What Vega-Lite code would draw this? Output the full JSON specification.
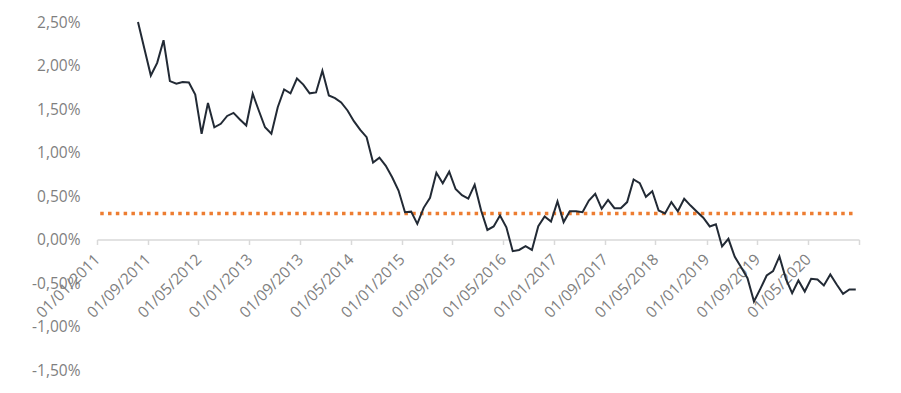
{
  "$schema": "https://vega.github.io/schema/vega-lite/v6.json",
  "width": 762,
  "height": 348,
  "autosize": "none",
  "padding": {"left": 97, "top": 22, "right": 42, "bottom": 23},
  "background": "#ffffff",
  "config": {
    "view": {"stroke": null},
    "locale": {
      "number": {"decimal": ",", "thousands": ".", "grouping": [3], "currency": ["", " €"], "minus": "-"}
    },
    "axis": {
      "labelFont": "Open Sans",
      "labelFontSize": 15.5,
      "labelColor": "#7f7f7f",
      "grid": false,
      "title": null
    }
  },
  "datasets": {
    "yield": [
      {"date": "2011-07", "rate": 0.02500},
      {"date": "2011-08", "rate": 0.02190},
      {"date": "2011-09", "rate": 0.01885},
      {"date": "2011-10", "rate": 0.02030},
      {"date": "2011-11", "rate": 0.02290},
      {"date": "2011-12", "rate": 0.01820},
      {"date": "2012-01", "rate": 0.01790},
      {"date": "2012-02", "rate": 0.01810},
      {"date": "2012-03", "rate": 0.01805},
      {"date": "2012-04", "rate": 0.01667},
      {"date": "2012-05", "rate": 0.01215},
      {"date": "2012-06", "rate": 0.01570},
      {"date": "2012-07", "rate": 0.01290},
      {"date": "2012-08", "rate": 0.01330},
      {"date": "2012-09", "rate": 0.01420},
      {"date": "2012-10", "rate": 0.01455},
      {"date": "2012-11", "rate": 0.01380},
      {"date": "2012-12", "rate": 0.01310},
      {"date": "2013-01", "rate": 0.01675},
      {"date": "2013-02", "rate": 0.01480},
      {"date": "2013-03", "rate": 0.01290},
      {"date": "2013-04", "rate": 0.01215},
      {"date": "2013-05", "rate": 0.01520},
      {"date": "2013-06", "rate": 0.01724},
      {"date": "2013-07", "rate": 0.01680},
      {"date": "2013-08", "rate": 0.01850},
      {"date": "2013-09", "rate": 0.01780},
      {"date": "2013-10", "rate": 0.01680},
      {"date": "2013-11", "rate": 0.01690},
      {"date": "2013-12", "rate": 0.01940},
      {"date": "2014-01", "rate": 0.01655},
      {"date": "2014-02", "rate": 0.01625},
      {"date": "2014-03", "rate": 0.01575},
      {"date": "2014-04", "rate": 0.01483},
      {"date": "2014-05", "rate": 0.01360},
      {"date": "2014-06", "rate": 0.01260},
      {"date": "2014-07", "rate": 0.01176},
      {"date": "2014-08", "rate": 0.00885},
      {"date": "2014-09", "rate": 0.00940},
      {"date": "2014-10", "rate": 0.00847},
      {"date": "2014-11", "rate": 0.00716},
      {"date": "2014-12", "rate": 0.00563},
      {"date": "2015-01", "rate": 0.00314},
      {"date": "2015-02", "rate": 0.00320},
      {"date": "2015-03", "rate": 0.00180},
      {"date": "2015-04", "rate": 0.00364},
      {"date": "2015-05", "rate": 0.00480},
      {"date": "2015-06", "rate": 0.00767},
      {"date": "2015-07", "rate": 0.00647},
      {"date": "2015-08", "rate": 0.00780},
      {"date": "2015-09", "rate": 0.00580},
      {"date": "2015-10", "rate": 0.00510},
      {"date": "2015-11", "rate": 0.00470},
      {"date": "2015-12", "rate": 0.00630},
      {"date": "2016-01", "rate": 0.00333},
      {"date": "2016-02", "rate": 0.00110},
      {"date": "2016-03", "rate": 0.00150},
      {"date": "2016-04", "rate": 0.00276},
      {"date": "2016-05", "rate": 0.00140},
      {"date": "2016-06", "rate": -0.00134},
      {"date": "2016-07", "rate": -0.00120},
      {"date": "2016-08", "rate": -0.00077},
      {"date": "2016-09", "rate": -0.00120},
      {"date": "2016-10", "rate": 0.00153},
      {"date": "2016-11", "rate": 0.00264},
      {"date": "2016-12", "rate": 0.00207},
      {"date": "2017-01", "rate": 0.00437},
      {"date": "2017-02", "rate": 0.00200},
      {"date": "2017-03", "rate": 0.00325},
      {"date": "2017-04", "rate": 0.00325},
      {"date": "2017-05", "rate": 0.00314},
      {"date": "2017-06", "rate": 0.00448},
      {"date": "2017-07", "rate": 0.00525},
      {"date": "2017-08", "rate": 0.00353},
      {"date": "2017-09", "rate": 0.00456},
      {"date": "2017-10", "rate": 0.00360},
      {"date": "2017-11", "rate": 0.00360},
      {"date": "2017-12", "rate": 0.00430},
      {"date": "2018-01", "rate": 0.00690},
      {"date": "2018-02", "rate": 0.00647},
      {"date": "2018-03", "rate": 0.00490},
      {"date": "2018-04", "rate": 0.00555},
      {"date": "2018-05", "rate": 0.00333},
      {"date": "2018-06", "rate": 0.00300},
      {"date": "2018-07", "rate": 0.00430},
      {"date": "2018-08", "rate": 0.00325},
      {"date": "2018-09", "rate": 0.00468},
      {"date": "2018-10", "rate": 0.00390},
      {"date": "2018-11", "rate": 0.00320},
      {"date": "2018-12", "rate": 0.00250},
      {"date": "2019-01", "rate": 0.00150},
      {"date": "2019-02", "rate": 0.00175},
      {"date": "2019-03", "rate": -0.00080},
      {"date": "2019-04", "rate": 0.00008},
      {"date": "2019-05", "rate": -0.00200},
      {"date": "2019-06", "rate": -0.00318},
      {"date": "2019-07", "rate": -0.00444},
      {"date": "2019-08", "rate": -0.00713},
      {"date": "2019-09", "rate": -0.00567},
      {"date": "2019-10", "rate": -0.00414},
      {"date": "2019-11", "rate": -0.00364},
      {"date": "2019-12", "rate": -0.00195},
      {"date": "2020-01", "rate": -0.00452},
      {"date": "2020-02", "rate": -0.00617},
      {"date": "2020-03", "rate": -0.00471},
      {"date": "2020-04", "rate": -0.00598},
      {"date": "2020-05", "rate": -0.00452},
      {"date": "2020-06", "rate": -0.00460},
      {"date": "2020-07", "rate": -0.00529},
      {"date": "2020-08", "rate": -0.00402},
      {"date": "2020-09", "rate": -0.00517},
      {"date": "2020-10", "rate": -0.00624},
      {"date": "2020-11", "rate": -0.00575},
      {"date": "2020-12", "rate": -0.00575}
    ],
    "target": [
      {"date": "2011-01", "rate": 0.003},
      {"date": "2020-12", "rate": 0.003}
    ]
  },
  "encoding": {
    "x": {
      "field": "date",
      "type": "temporal",
      "timeUnit": "utcyearmonth",
      "bandPosition": 0.5,
      "scale": {
        "type": "utc",
        "domain": [
          {"year": 2011, "month": 1, "date": 1, "utc": true},
          {"year": 2021, "month": 1, "date": 1, "utc": true}
        ]
      },
      "axis": {
        "orient": "bottom",
        "offset": -130.5,
        "values": [
          {"year": 2011, "month": 1, "date": 1, "utc": true},
          {"year": 2011, "month": 9, "date": 1, "utc": true},
          {"year": 2012, "month": 5, "date": 1, "utc": true},
          {"year": 2013, "month": 1, "date": 1, "utc": true},
          {"year": 2013, "month": 9, "date": 1, "utc": true},
          {"year": 2014, "month": 5, "date": 1, "utc": true},
          {"year": 2015, "month": 1, "date": 1, "utc": true},
          {"year": 2015, "month": 9, "date": 1, "utc": true},
          {"year": 2016, "month": 5, "date": 1, "utc": true},
          {"year": 2017, "month": 1, "date": 1, "utc": true},
          {"year": 2017, "month": 9, "date": 1, "utc": true},
          {"year": 2018, "month": 5, "date": 1, "utc": true},
          {"year": 2019, "month": 1, "date": 1, "utc": true},
          {"year": 2019, "month": 9, "date": 1, "utc": true},
          {"year": 2020, "month": 5, "date": 1, "utc": true},
          {"year": 2021, "month": 1, "date": 1, "utc": true}
        ],
        "labelExpr": "utcyear(datum.value) == 2021 ? '' : utcFormat(datum.value, '%d/%m/%Y')",
        "labelAngle": -45,
        "labelAlign": "right",
        "labelBaseline": "middle",
        "labelPadding": 12,
        "labelFlush": false,
        "labelOverlap": false,
        "domainColor": "#d9d9d9",
        "domainWidth": 1.5,
        "tickColor": "#d9d9d9",
        "tickWidth": 1.5,
        "tickSize": 5
      }
    },
    "y": {
      "field": "rate",
      "type": "quantitative",
      "scale": {"domain": [-0.015, 0.025], "nice": false, "zero": false},
      "axis": {
        "values": [-0.015, -0.01, -0.005, 0, 0.005, 0.01, 0.015, 0.02, 0.025],
        "format": ".2%",
        "domain": false,
        "ticks": false,
        "tickSize": 0,
        "labelPadding": 17
      }
    }
  },
  "layer": [
    {
      "data": {"name": "target"},
      "mark": {"type": "line", "color": "#ed7d31", "strokeWidth": 3.5, "strokeDash": [3.5, 4.3], "strokeCap": "butt"}
    },
    {
      "data": {"name": "yield"},
      "mark": {"type": "line", "color": "#222a35", "strokeWidth": 2, "strokeJoin": "miter"}
    }
  ]
}
